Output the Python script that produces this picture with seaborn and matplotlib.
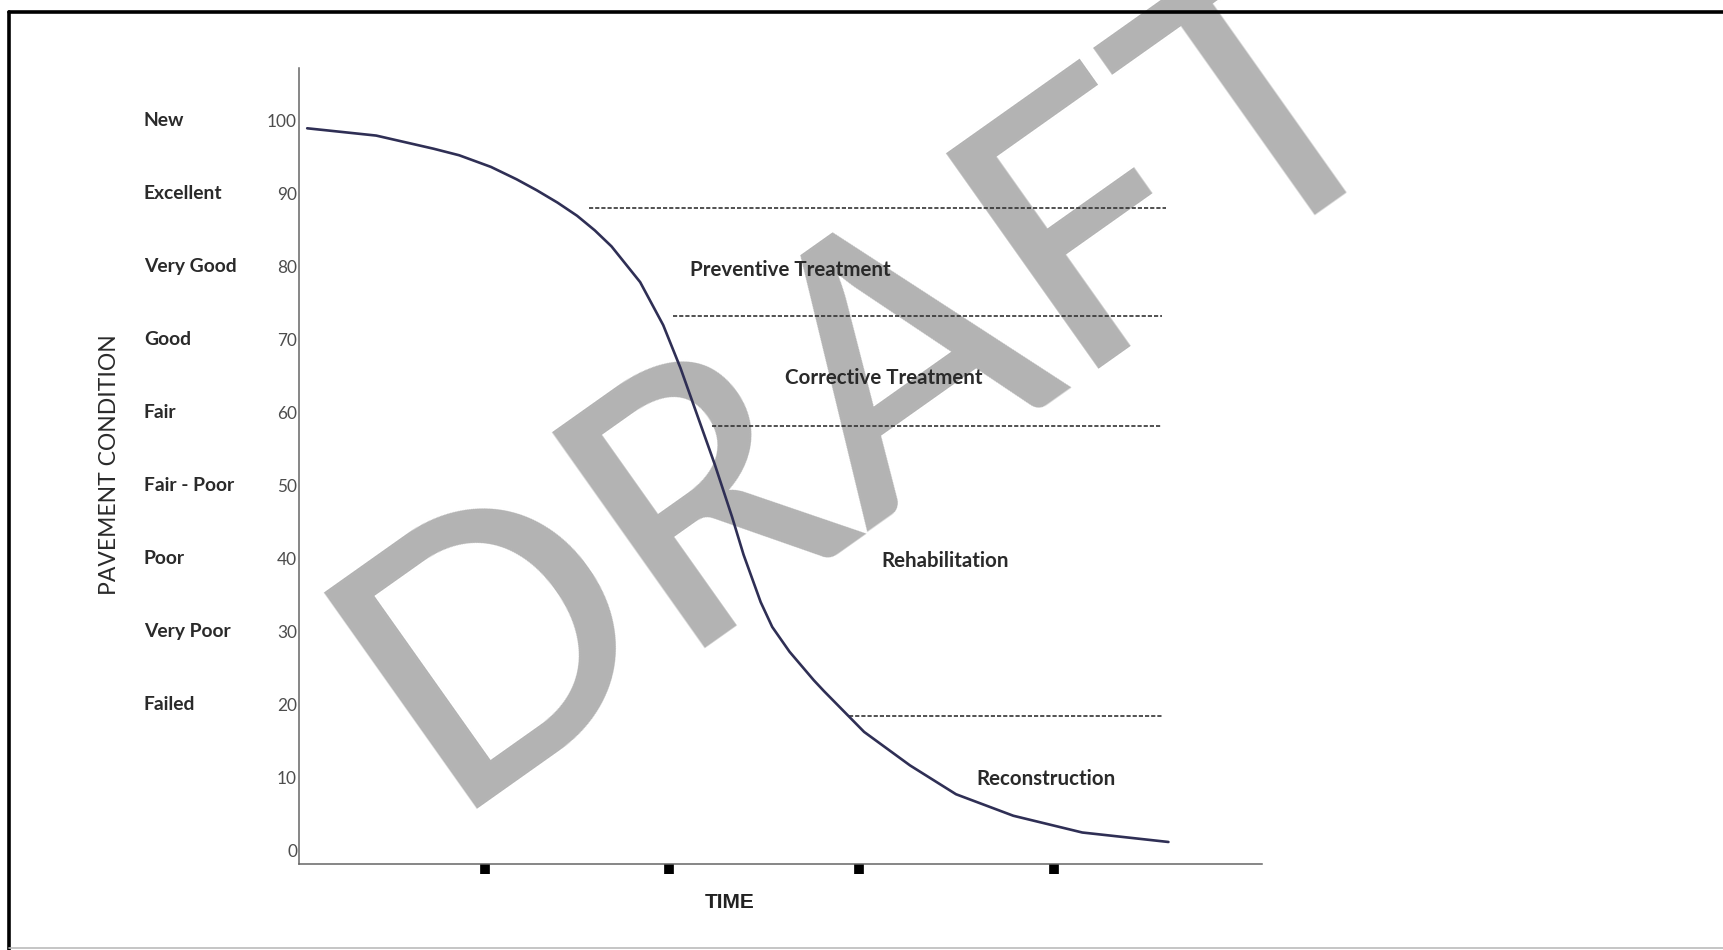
# Pavement condition deterioration curve (treatment zones)
import numpy as np
import pandas as pd
import matplotlib.pyplot as plt
import seaborn as sns
from matplotlib.lines import Line2D

# ------------------------------
# data
# ------------------------------
time_pts = [0.044, 0.415, 0.723, 0.861, 1.032, 1.17, 1.278, 1.39, 1.495, 1.59,
            1.68, 1.834, 1.958, 2.051, 2.143, 2.235, 2.328, 2.39, 2.482, 2.544,
            2.637, 2.767, 2.822, 3.038, 3.285, 3.532, 3.84, 4.211, 4.674]
condition = [99.0, 98.0, 96.2, 95.3, 93.7, 92.0, 90.5, 88.8, 87.0, 85.0,
             82.8, 77.9, 72.0, 66.1, 59.5, 52.9, 45.7, 40.5, 34.0, 30.6,
             27.2, 23.3, 21.8, 16.2, 11.6, 7.65, 4.7, 2.4, 1.1]

cond_ticks = [0, 10, 20, 30, 40, 50, 60, 70, 80, 90, 100]
rating_labels = ["New", "Excellent", "Very Good", "Good", "Fair",
                 "Fair - Poor", "Poor", "Very Poor", "Failed"]
rating_levels = [100, 90, 80, 70, 60, 50, 40, 30, 20]
time_ticks = [1.0, 1.99, 3.01, 4.06]

thresholds = [88.1, 73.3, 58.2, 18.4]
threshold_start = [1.56, 2.01, 2.22, 2.956]
threshold_end = [4.66, 4.64, 4.64, 4.64]

zones = ["Preventive Treatment", "Corrective Treatment", "Rehabilitation", "Reconstruction"]
zone_x = [2.64, 3.145, 3.476, 4.014]
zone_y = [79.6, 64.7, 39.7, 9.8]

df = pd.DataFrame({"time": time_pts, "condition": condition})

# ------------------------------
# figure
# ------------------------------
sns.set_theme(style="white")
plt.rcParams["font.family"] = ["Lato", "DejaVu Sans"]

W, H = 1724, 950
fig = plt.figure(figsize=(W / 100, H / 100), dpi=100)
ax = fig.add_axes([299 / W, 86 / H, 963 / W, 796 / H])
ax.patch.set_alpha(0)

# watermark behind everything
ax.text(444 / W, (H - 809) / H, "DRAFT", transform=fig.transFigure,
        rotation=35.3, rotation_mode="anchor", ha="left", va="baseline",
        fontsize=265, fontweight="medium", color="#b3b3b3", zorder=0, clip_on=False)

sns.lineplot(data=df, x="time", y="condition", ax=ax, color="#2f2f55",
             linewidth=1.9, zorder=3, solid_joinstyle="round", solid_capstyle="round")

for y, x0, x1 in zip(thresholds, threshold_start, threshold_end):
    ax.plot([x0, x1], [y, y], color="#333333", lw=1.2,
            linestyle=(0, (2.5, 1.2)), zorder=2)

for name, x, y in zip(zones, zone_x, zone_y):
    ax.text(x, y, name, ha="center", va="center", fontsize=14.8,
            fontweight="bold", color="#2a2a2a", zorder=4)

ax.set_xlim(0, 5.177)
ax.set_ylim(-1.92, 107.27)

ax.set_yticks(cond_ticks)
ax.set_yticklabels([str(v) for v in cond_ticks], fontsize=12.4, color="#4d4d4d")
ax.tick_params(axis="y", left=False, length=0, pad=1.4)

ax.set_xticks(time_ticks)
ax.set_xticklabels([])
ax.tick_params(axis="x", bottom=True, direction="out", length=7, width=7,
               color="black")

ytr = ax.get_yaxis_transform()
for lab, lev in zip(rating_labels, rating_levels):
    ax.text(-0.161, lev, lab, transform=ytr, ha="left", va="center",
            fontsize=13.9, fontweight="bold", color="#2a2a2a")

ax.text(-0.1965, 52.8, "PAVEMENT CONDITION", transform=ytr, rotation=90,
        ha="center", va="center", fontsize=16.5, color="#2a2a2a")

xtr = ax.get_xaxis_transform()
ax.text(2.317, -0.0486, "TIME", transform=xtr, ha="center", va="center",
        fontsize=15, fontweight="bold", color="#222222",
        family=["Liberation Sans", "DejaVu Sans"])

ax.set_xlabel("")
ax.set_ylabel("")
sns.despine(ax=ax)
for side in ["left", "bottom"]:
    ax.spines[side].set_color("#666666")
    ax.spines[side].set_linewidth(1.1)

# page border
fig.add_artist(Line2D([9 / W, 1], [1 - 12 / H, 1 - 12 / H], transform=fig.transFigure,
                      color="black", lw=2.6))
fig.add_artist(Line2D([9 / W, 9 / W], [0, 1 - 12 / H], transform=fig.transFigure,
                      color="black", lw=2.6))
fig.add_artist(Line2D([9 / W, 1], [2 / H, 2 / H], transform=fig.transFigure,
                      color="#bbbbbb", lw=1.2))

fig.savefig("out.png", dpi=100, facecolor="white")
